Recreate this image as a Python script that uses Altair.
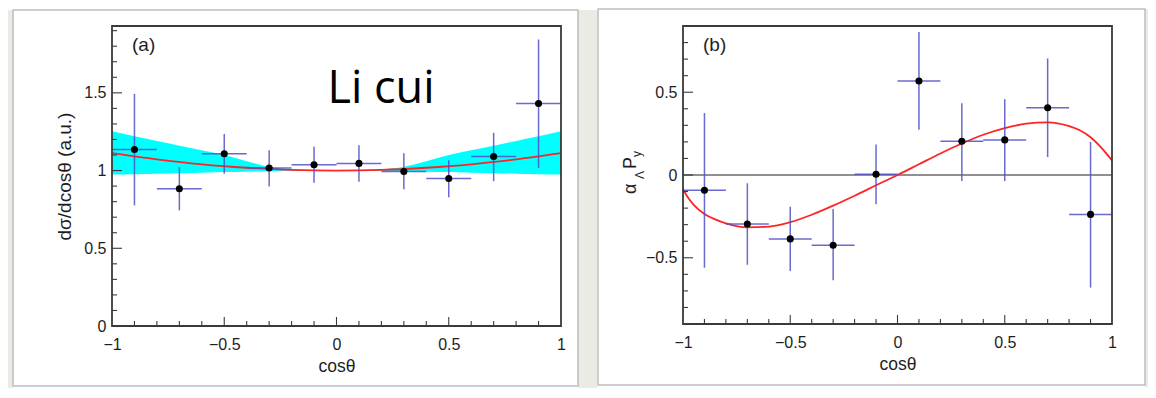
import altair as alt
import pandas as pd

FONT = "Liberation Sans"
EB_COLOR = "#4f4fc8"
FRAME = "#3a3a3a"
TXT = "#1e1e1e"
GREY = "#ebebe6"

# ---------------- panel (a) ----------------
bin_center = [-0.9, -0.7, -0.5, -0.3, -0.1, 0.1, 0.3, 0.5, 0.7, 0.9]
bin_lo = [-1.0, -0.8, -0.6, -0.4, -0.2, 0.0, 0.2, 0.4, 0.6, 0.8]
bin_hi = [-0.8, -0.6, -0.4, -0.2, 0.0, 0.2, 0.4, 0.6, 0.8, 1.0]

a_y = [1.136, 0.883, 1.108, 1.016, 1.037, 1.046, 0.994, 0.949, 1.091, 1.431]
a_ylo = [0.776, 0.744, 0.979, 0.898, 0.921, 0.928, 0.879, 0.829, 0.932, 1.018]
a_yhi = [1.493, 1.022, 1.236, 1.131, 1.153, 1.163, 1.112, 1.067, 1.243, 1.843]

fit_a_x = [-1.0, -0.8, -0.6, -0.4, -0.2, 0.0, 0.2, 0.4, 0.6, 0.8, 1.0]
fit_a_y = [1.112, 1.072, 1.040, 1.018, 1.004, 1.000, 1.004, 1.018, 1.040, 1.072, 1.112]

band_x = [-1.0, -0.9, -0.8, -0.7, -0.6, -0.5, -0.4, -0.3, -0.2, -0.1, 0.0,
          0.1, 0.2, 0.3, 0.4, 0.5, 0.6, 0.7, 0.8, 0.9, 1.0]
band_hi = [1.253, 1.22, 1.19, 1.16, 1.13, 1.10, 1.06, 1.025, 1.008, 1.002, 1.0,
           1.002, 1.008, 1.025, 1.06, 1.10, 1.13, 1.16, 1.19, 1.22, 1.253]
band_lo = [0.975, 0.977, 0.980, 0.983, 0.986, 0.990, 0.993, 0.996, 0.998, 1.0, 1.0,
           1.0, 0.998, 0.996, 0.993, 0.990, 0.986, 0.983, 0.980, 0.977, 0.975]

# ---------------- panel (b) ----------------
b_y = [-0.092, -0.296, -0.386, -0.424, 0.004, 0.568, 0.204, 0.212, 0.406, -0.238]
b_ylo = [-0.560, -0.542, -0.580, -0.636, -0.176, 0.274, -0.036, -0.036, 0.108, -0.680]
b_yhi = [0.374, -0.050, -0.192, -0.206, 0.184, 0.864, 0.434, 0.458, 0.704, 0.200]

fit_b_x = [-1.0, -0.98, -0.95, -0.9, -0.85, -0.8, -0.7, -0.6, -0.5, -0.4, -0.3, -0.2, -0.1,
           0.0, 0.1, 0.2, 0.3, 0.4, 0.5, 0.6, 0.7, 0.8, 0.85, 0.9, 0.95, 0.98, 1.0]
fit_b_y = [-0.086, -0.13, -0.18, -0.235, -0.268, -0.292, -0.316, -0.312, -0.285, -0.24,
           -0.185, -0.125, -0.062, 0.0, 0.065, 0.13, 0.19, 0.243, 0.283, 0.31, 0.318,
           0.295, 0.27, 0.228, 0.165, 0.12, 0.088]

# ---------------- ticks ----------------
x_major = [-0.5, 0.0, 0.5]
x_minor = [-0.9, -0.8, -0.7, -0.6, -0.4, -0.3, -0.2, -0.1, 0.1, 0.2, 0.3, 0.4, 0.6, 0.7, 0.8, 0.9]
x_labels = [-1, -0.5, 0, 0.5, 1]
a_y_major = [0.5, 1.0, 1.5]
a_y_minor = [0.1, 0.2, 0.3, 0.4, 0.6, 0.7, 0.8, 0.9, 1.1, 1.2, 1.3, 1.4, 1.6, 1.7, 1.8, 1.9]
a_y_labels = [0, 0.5, 1, 1.5]
b_y_major = [-0.5, 0.0, 0.5]
b_y_minor = [-0.8, -0.7, -0.6, -0.4, -0.3, -0.2, -0.1, 0.1, 0.2, 0.3, 0.4, 0.6, 0.7, 0.8]
b_y_labels = [-0.5, 0, 0.5]

ONE = pd.DataFrame({"d": [0]})


def rect(x1, x2, y1, y2, **kw):
    return alt.Chart(ONE).mark_rect(**kw).encode(
        x=alt.value(x1), x2=alt.value(x2), y=alt.value(y1), y2=alt.value(y2))


def build_panel(W, H, ydom, ys_pts, ylo, yhi, fx, fy, ymaj, ymin, ylabs, ytitle,
                card, strips, tag, band=None, zero_line=False, extra_texts=()):
    xsc = alt.Scale(domain=[-1, 1], nice=False, zero=False)
    ysc = alt.Scale(domain=ydom, nice=False, zero=False)
    xaxis = alt.Axis(values=x_labels, format="~g", ticks=False, tickSize=0, domain=False,
                     grid=False, labelFlush=False, labelPadding=10, labelFont=FONT,
                     labelFontSize=16, labelColor=TXT, title="cosθ", titleFont=FONT,
                     titleFontSize=17.5, titleFontWeight="normal", titleColor=TXT,
                     titlePadding=5)
    yaxis = alt.Axis(values=ylabs, format="~g", ticks=False, tickSize=0, domain=False,
                     grid=False, labelFlush=False, labelPadding=6, labelFont=FONT,
                     labelFontSize=16, labelColor=TXT, title=ytitle, titleFont=FONT,
                     titleFontSize=19, titleFontWeight="normal", titleColor=TXT,
                     titlePadding=9)

    def X(f):
        return alt.X(f, type="quantitative", scale=xsc, axis=xaxis)

    def Y(f):
        return alt.Y(f, type="quantitative", scale=ysc, axis=yaxis)

    layers = []
    cx1, cx2, cy1, cy2 = card
    for s in strips:
        layers.append(rect(*s, fill=GREY, strokeOpacity=0))
    layers.append(rect(cx1, cx2, cy1, cy2, fillOpacity=0, stroke="#bdbdbd", strokeWidth=1.5))
    if band is not None:
        bdf = pd.DataFrame({"x": band[0], "lo": band[1], "hi": band[2]})
        layers.append(
            alt.Chart(bdf).mark_area(color="#00ffff", opacity=1, interpolate="monotone").encode(
                x=X("x"), y=Y("lo"), y2="hi:Q"))
    if zero_line:
        layers.append(
            alt.Chart(pd.DataFrame({"y": [0.0]})).mark_rule(color="#222", strokeWidth=1.2).encode(
                y=Y("y"), x=alt.value(0), x2=alt.value(W)))
    fdf = pd.DataFrame({"x": fx, "y": fy})
    layers.append(
        alt.Chart(fdf).mark_line(color="#ff2424", strokeWidth=1.8, interpolate="monotone").encode(
            x=X("x"), y=Y("y")))
    pdf = pd.DataFrame({"x": bin_center, "xl": bin_lo, "xh": bin_hi,
                        "y": ys_pts, "lo": ylo, "hi": yhi})
    layers.append(
        alt.Chart(pdf).mark_rule(color=EB_COLOR, strokeWidth=1.5, opacity=0.85).encode(
            x=X("x"), y=Y("lo"), y2="hi:Q"))
    layers.append(
        alt.Chart(pdf).mark_rule(color=EB_COLOR, strokeWidth=1.5, opacity=0.85).encode(
            x=X("xl"), x2="xh:Q", y=Y("y")))
    layers.append(
        alt.Chart(pdf).mark_circle(color="black", size=50, opacity=1).encode(
            x=X("x"), y=Y("y")))
    # inward ticks
    layers.append(
        alt.Chart(pd.DataFrame({"x": x_minor})).mark_rule(color=FRAME, strokeWidth=1.1).encode(
            x=X("x"), y=alt.value(H), y2=alt.value(H - 5)))
    layers.append(
        alt.Chart(pd.DataFrame({"x": x_major})).mark_rule(color=FRAME, strokeWidth=1.1).encode(
            x=X("x"), y=alt.value(H), y2=alt.value(H - 9)))
    layers.append(
        alt.Chart(pd.DataFrame({"y": ymin})).mark_rule(color=FRAME, strokeWidth=1.1).encode(
            y=Y("y"), x=alt.value(0), x2=alt.value(5)))
    layers.append(
        alt.Chart(pd.DataFrame({"y": ymaj})).mark_rule(color=FRAME, strokeWidth=1.1).encode(
            y=Y("y"), x=alt.value(0), x2=alt.value(10)))
    # frame
    layers.append(rect(0, W, 0, H, fillOpacity=0, stroke=FRAME, strokeWidth=1.8))
    # panel tag
    layers.append(
        alt.Chart(ONE).mark_text(font=FONT, fontSize=19, color=TXT, align="left",
                                 baseline="middle").encode(
            x=alt.value(20), y=alt.value(19), text=alt.value(tag)))
    for t in extra_texts:
        txt, tx, ty, kw = t
        layers.append(
            alt.Chart(ONE).mark_text(**kw).encode(
                x=alt.value(tx), y=alt.value(ty), text=alt.value(txt)))
    return alt.layer(*layers).properties(width=W, height=H)


texts_a = [
    ("Li cui", 269, 77, dict(font="Open Sans", fontSize=45, color="black",
                             align="center", baseline="alphabetic")),
]
sub_kw = dict(font=FONT, color=TXT, align="left", baseline="alphabetic", angle=270)
texts_b = [
    ("α", -47, 168, dict(sub_kw, fontSize=18)),
    ("Λ", -39, 153, dict(sub_kw, fontSize=12)),
    ("P", -47, 143, dict(sub_kw, fontSize=18)),
    ("y", -42, 131, dict(sub_kw, fontSize=12)),
]

panel_a = build_panel(449, 300, [0, 1.93], a_y, a_ylo, a_yhi, fit_a_x, fit_a_y,
                      a_y_major, a_y_minor, a_y_labels, "dσ/dcosθ (a.u.)",
                      (-99, 466, -16, 360),
                      [(-104, -99, -16, 362), (466, 485, -16, 362)], "(a)",
                      band=(band_x, band_lo, band_hi), extra_texts=texts_a)

panel_b = build_panel(429, 298, [-0.9, 0.9], b_y, b_ylo, b_yhi, fit_b_x, fit_b_y,
                      b_y_major, b_y_minor, b_y_labels, "",
                      (-85, 462, -17, 359), [(462, 465, -17, 361)], "(b)",
                      zero_line=True, extra_texts=texts_b)

chart = alt.hconcat(panel_a, panel_b, spacing=0).configure(
    background="white",
    padding={"left": 0, "top": 0, "right": 0, "bottom": 0},
).configure_view(strokeOpacity=0)

chart.save("out.html", embed_options={"renderer": "svg", "actions": False})
